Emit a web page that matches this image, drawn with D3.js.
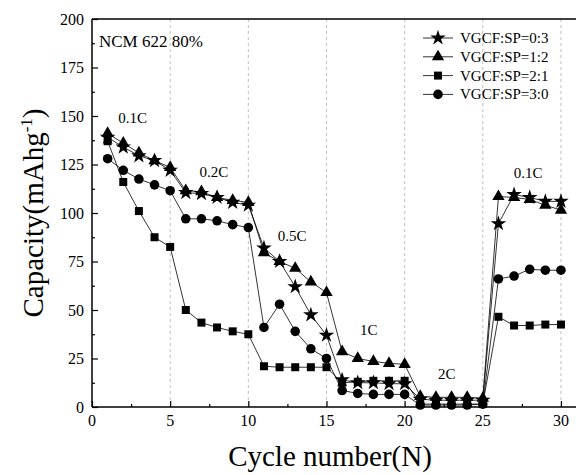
<!DOCTYPE html>
<html>
<head>
<meta charset="utf-8">
<script src="https://cdn.jsdelivr.net/npm/d3@7.9.0/dist/d3.min.js"></script>
</head>
<body style="margin:0; background:#fff">
<svg id="chart" width="576" height="475" style="display:block"></svg>
<script>
// cycle numbers and capacities (mAh/g)
const cycles = [1,2,3,4,5,6,7,8,9,10,11,12,13,14,15,16,17,18,19,20,21,22,23,24,25,26,27,28,29,30];
const sp03 = [139,134,129.5,127,122, 110.5,110,108,105.5,104, 82,75,62,47.5,37, 14,12.5,12.5,12,12, 4,3.5,3.5,3.5,3.5, 94.5,109.5,108,106,106];
const sp12 = [141,136,131,127,123.5, 111.5,111,108,106.5,105.5, 79.5,75,71.5,64.5,59, 28.5,25,23.5,22.5,22, 5.5,5,5,5,4.5, 108.5,108,107,104,101.5];
const sp21 = [137,116,101,87.5,82.5, 50,43.5,41,39,37.5, 21,20.5,20.5,20.5,20.5, 12.5,13,13.5,13.5,13.5, 1.5,1.5,1.5,1.5,1.5, 46.5,42,42,42.5,42.5];
const sp30 = [128,122,117.5,114.5,111.5, 97,97,96,94,92.5, 41,53,39,30,25, 8.5,7,6.5,6.5,6.5, 1,1,1,1,1.5, 66,67.5,71,70.5,70.5];

const seriesNames = ['VGCF:SP=0:3', 'VGCF:SP=1:2', 'VGCF:SP=2:1', 'VGCF:SP=3:0'];
const xTicks = [0,5,10,15,20,25,30];
const yTicks = [0,25,50,75,100,125,150,175,200];
const rateLabels = [
  { text: '0.1C', c: 2.6, v: 146.5 },
  { text: '0.2C', c: 7.8, v: 118.5 },
  { text: '0.5C', c: 12.8, v: 85.5 },
  { text: '1C', c: 17.7, v: 37 },
  { text: '2C', c: 22.7, v: 14.5 },
  { text: '0.1C', c: 27.9, v: 118 }
];

const FONT = 'Liberation Serif';
const svg = d3.select('#chart').attr('font-family', FONT);
const x = d3.scaleLinear().domain([0, 31]).range([92, 576.6]);
const y = d3.scaleLinear().domain([0, 200]).range([407, 19]);

// dashed vertical grid at major x ticks
svg.append('g')
  .selectAll('line')
  .data(xTicks.filter(d => d > 0))
  .join('line')
  .attr('x1', d => x(d)).attr('x2', d => x(d))
  .attr('y1', y(200)).attr('y2', y(0))
  .attr('stroke', '#b0b0b0')
  .attr('stroke-width', 0.8)
  .attr('stroke-dasharray', '3,3');

// axes with inward ticks
const xAxis = svg.append('g').attr('transform', `translate(0,${y(0)})`)
  .call(d3.axisBottom(x).tickValues(d3.range(0, 31, 2.5)).tickSize(0).tickFormat(''));
xAxis.select('.domain').remove();
xAxis.selectAll('.tick line')
  .attr('y2', d => (d % 5 === 0 ? -6 : -3))
  .attr('stroke', '#000').attr('stroke-width', 1.2);

const yAxis = svg.append('g').attr('transform', `translate(${x(0)},0)`)
  .call(d3.axisLeft(y).tickValues(d3.range(0, 201, 12.5)).tickSize(0).tickFormat(''));
yAxis.select('.domain').remove();
yAxis.selectAll('.tick line')
  .attr('x2', d => (d % 25 === 0 ? 6 : 3))
  .attr('stroke', '#000').attr('stroke-width', 1.2);

svg.append('g').selectAll('text')
  .data(xTicks).join('text')
  .attr('font-family', FONT)
  .attr('x', d => x(d)).attr('y', 426)
  .attr('text-anchor', 'middle')
  .attr('font-size', 16)
  .text(d => d);

svg.append('g').selectAll('text')
  .data(yTicks).join('text')
  .attr('font-family', FONT)
  .attr('x', 84).attr('y', d => y(d) + 5.5)
  .attr('text-anchor', 'end')
  .attr('font-size', 16)
  .text(d => d);

// frame lines
svg.append('line').attr('x1', x(0)).attr('x2', 576).attr('y1', y(0)).attr('y2', y(0))
  .attr('stroke', '#000').attr('stroke-width', 1.5);
svg.append('line').attr('x1', x(0)).attr('x2', 576).attr('y1', y(200)).attr('y2', y(200))
  .attr('stroke', '#000').attr('stroke-width', 1.5);
svg.append('line').attr('x1', x(0)).attr('x2', x(0)).attr('y1', y(0)).attr('y2', y(200))
  .attr('stroke', '#000').attr('stroke-width', 1.5);

// series
const symbols = [
  d3.symbol().type(d3.symbolStar).size(75),
  d3.symbol().type(d3.symbolTriangle).size(66),
  d3.symbol().type(d3.symbolSquare).size(64),
  d3.symbol().type(d3.symbolCircle).size(72)
];
const allSeries = [sp03, sp12, sp21, sp30];
const line = d3.line().x(d => x(d[0])).y(d => y(d[1]));

allSeries.forEach((vals, i) => {
  const pts = cycles.map((c, j) => [c, vals[j]]);
  svg.append('path')
    .attr('d', line(pts))
    .attr('fill', 'none')
    .attr('stroke', '#000')
    .attr('stroke-width', 0.8);
});
allSeries.forEach((vals, i) => {
  svg.append('g').selectAll('path')
    .data(cycles.map((c, j) => [c, vals[j]]))
    .join('path')
    .attr('d', symbols[i])
    .attr('transform', d => `translate(${x(d[0])},${y(d[1])})`)
    .attr('fill', '#000');
});

// rate annotations
svg.append('g').selectAll('text')
  .data(rateLabels).join('text')
  .attr('font-family', FONT)
  .attr('x', d => x(d.c)).attr('y', d => y(d.v))
  .attr('text-anchor', 'middle')
  .attr('font-size', 15)
  .text(d => d.text);

svg.append('text')
  .attr('font-family', FONT)
  .attr('x', 99).attr('y', 47)
  .attr('font-size', 17)
  .text('NCM 622 80%');

// legend
const legend = svg.append('g').attr('transform', 'translate(423,38)');
seriesNames.forEach((name, i) => {
  const row = legend.append('g').attr('transform', `translate(0,${i * 18.8})`);
  row.append('line').attr('x1', 0).attr('x2', 30).attr('y1', 0).attr('y2', 0)
    .attr('stroke', '#000').attr('stroke-width', 0.8);
  row.append('path').attr('d', symbols[i]).attr('transform', 'translate(15,0)').attr('fill', '#000');
  row.append('text').attr('font-family', FONT)
    .attr('x', 37).attr('y', 5).attr('font-size', 15).text(name);
});

// axis titles
svg.append('text')
  .attr('font-family', FONT)
  .attr('x', 330).attr('y', 466)
  .attr('text-anchor', 'middle')
  .attr('font-size', 29)
  .text('Cycle number(N)');

const yTitle = svg.append('text')
  .attr('font-family', FONT)
  .attr('transform', 'translate(43,213) rotate(-90)')
  .attr('text-anchor', 'middle')
  .attr('font-size', 29);
yTitle.append('tspan').text('Capacity(mAhg');
yTitle.append('tspan').attr('font-size', 17).attr('dy', -11).text('-1');
yTitle.append('tspan').attr('dy', 11).text(')');
</script>
</body>
</html>
